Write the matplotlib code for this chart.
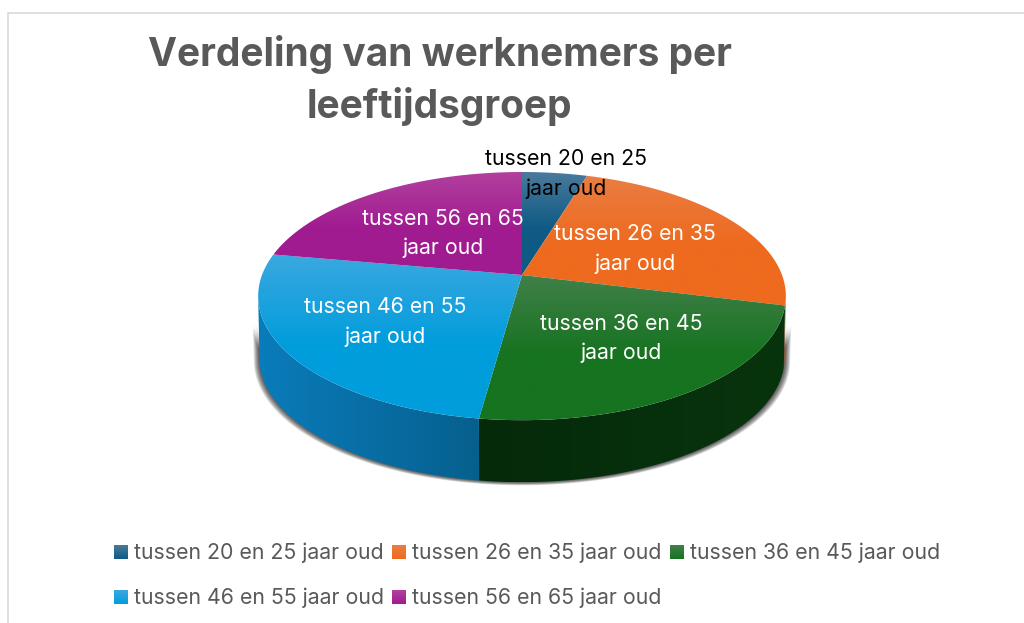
import numpy as np
import matplotlib
matplotlib.use("Agg")
import matplotlib.pyplot as plt
from matplotlib.colors import to_rgb
from matplotlib.patches import Polygon

plt.rcParams["font.family"] = ["Inter", "DejaVu Sans"]

title = "Verdeling van werknemers per\nleeftijdsgroep"
labels = ["tussen 20 en 25 jaar oud", "tussen 26 en 35 jaar oud", "tussen 36 en 45 jaar oud",
          "tussen 46 en 55 jaar oud", "tussen 56 en 65 jaar oud"]
values = [4.7, 24.2, 23.3, 25.6, 22.2]

top_light = ["#4a7a9c", "#ea7d42", "#42804a", "#3aa8e0", "#b2409f"]
top_base = ["#0e5a85", "#ee6a1e", "#167320", "#009ddc", "#a01b90"]
side_left = ["#0e4a6c", "#a84a12", "#08340d", "#0a7cbb", "#741468"]
side_right = ["#0e4a6c", "#a84a12", "#052a0a", "#06608e", "#741468"]

cx, cy = 522, 275     # pie apex in pixels
sx, sy = 260, 120.5   # scale of the disc
persp = 0.17          # back of the disc is squeezed
depth = 62


def disc(theta, shrink=1.0, drop=0.0):
    # clockwise from 12 o'clock, perspective squeeze on y
    x = np.sin(theta)
    y = np.cos(theta)
    w = 1 + persp * y
    return np.column_stack([cx + shrink * sx * x / w, cy - sy * y / w + drop])


def grad_fill(ax, poly, c1, c2, horizontal=False, stop=1.0):
    # gradient clipped to a polygon, stop = where it reaches c2
    x0, y0 = poly.min(axis=0)
    x1, y1 = poly.max(axis=0)
    t = np.clip(np.linspace(0, 1, 256) / stop, 0, 1)
    c1, c2 = np.array(to_rgb(c1)), np.array(to_rgb(c2))
    img = c1[None, :] * (1 - t[:, None]) + c2[None, :] * t[:, None]
    img = img[None, :, :] if horizontal else img[:, None, :]
    im = ax.imshow(img, extent=[x0, x1, y1, y0], aspect="auto", zorder=3, interpolation="bilinear")
    patch = Polygon(poly, closed=True, transform=ax.transData, fc="none", ec="none")
    ax.add_patch(patch)
    im.set_clip_path(patch)
    return im


fig = plt.figure(figsize=(10.24, 6.23), dpi=100)
ax = fig.add_axes([0, 0, 1, 1])
ax.axis("off")

# chart frame
ax.plot([8, 8, 1024], [623, 13, 13], color="#d9d9d9", lw=1.2, zorder=1)

edges = np.radians(np.cumsum([0] + values) / sum(values) * 360)

# only this part of the rim faces the viewer
rim_lo, rim_hi = np.radians(99.8), np.radians(260.2)

# soft shadow round the front of the pie
front = np.linspace(rim_lo, rim_hi, 200)
for i in range(7, 0, -1):
    sil = np.vstack([disc(front, 1 + i * 0.003, 25), disc(front, 0.995 + i * 0.003, depth + i * 0.45)[::-1]])
    ax.add_patch(Polygon(sil, closed=True, fc="#000000", ec="none", alpha=0.12, zorder=2))

# side walls first, the top face covers whatever is at the back
for i in range(len(values)):
    a, b = max(edges[i], rim_lo), min(edges[i + 1], rim_hi)
    if a >= b:
        continue
    th = np.linspace(a, b, 120)
    wall = np.vstack([disc(th), disc(th, 0.995, depth)[::-1]])
    grad_fill(ax, wall, side_left[i] if i != 2 else side_right[i],
              side_right[i] if i != 2 else side_left[i], horizontal=True)

# top face
for i in range(len(values)):
    th = np.linspace(edges[i], edges[i + 1], 120)
    face = np.vstack([[cx, cy], disc(th)])
    im = grad_fill(ax, face, top_light[i], top_base[i], stop=0.55)
    im.set_zorder(4)

# data labels
label_pos = [(566, 159, 189), (635, 234, 264), (621, 324, 353), (385, 307, 337), (443, 219, 248)]
label_col = ["black", "white", "white", "white", "white"]
for lab, (x, y1, y2), col in zip(labels, label_pos, label_col):
    ax.text(x, y1, lab[:15], ha="center", va="center", fontsize=15.3, color=col, zorder=6)
    ax.text(x, y2, lab[16:], ha="center", va="center", fontsize=15.3, color=col, zorder=6)

# title
lines = title.split("\n")
ax.text(440, 55, lines[0], ha="center", va="center", fontsize=28, fontweight="bold", color="#595959")
ax.text(439, 107, lines[1], ha="center", va="center", fontsize=28, fontweight="bold", color="#595959")

# legend
leg_pos = [(114, 552), (392, 552), (670, 552), (114, 597), (392, 597)]
for i, (x, y) in enumerate(leg_pos):
    sq = np.array([[x, y - 7], [x + 14, y - 7], [x + 14, y + 7], [x, y + 7]])
    grad_fill(ax, sq, top_light[i], top_base[i])
    ax.text(x + 20, y + 1, labels[i], ha="left", va="center", fontsize=15.35, color="#595959")

ax.set_xlim(0, 1024)
ax.set_ylim(623, 0)
fig.savefig("out.png", dpi=100)
